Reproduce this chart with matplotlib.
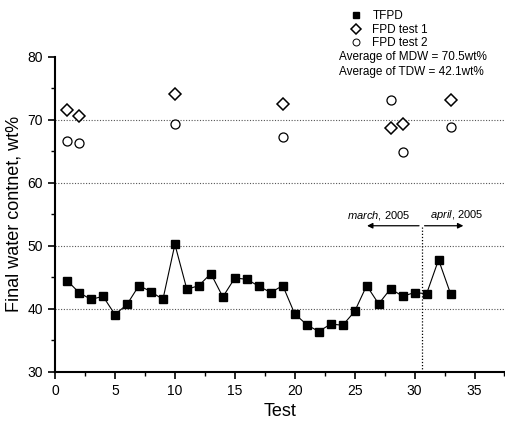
import matplotlib.pyplot as plt
from matplotlib.lines import Line2D
from matplotlib.ticker import MultipleLocator

plt.rcParams['font.family'] = ['Liberation Sans', 'DejaVu Sans']
plt.rcParams['mathtext.fontset'] = 'custom'
plt.rcParams['mathtext.rm'] = 'Liberation Sans'
plt.rcParams['mathtext.it'] = 'Liberation Sans:italic'

# TFPD final water content per test
tfpd_test = list(range(1, 34))
tfpd_wc = [44.5, 42.6, 41.5, 42.0, 39.1, 40.7, 43.7, 42.75, 41.5, 50.25,
           43.1, 43.7, 45.6, 41.9, 44.9, 44.7, 43.6, 42.6, 43.7, 39.2,
           37.5, 36.4, 37.6, 37.4, 39.6, 43.7, 40.8, 43.2, 42.0, 42.6,
           42.4, 47.8, 42.4]

# FPD runs
fpd_test = [1, 2, 10, 19, 28, 29, 33]
fpd1_wc = [71.6, 70.7, 74.1, 72.6, 68.7, 69.4, 73.2]
fpd2_wc = [66.6, 66.3, 69.4, 67.35, 73.1, 64.9, 68.9]

grid_levels = [40, 50, 60, 70]
month_split = 30.6

fig = plt.figure(figsize=(5.05, 4.25), dpi=100)
ax = fig.add_axes([0.109, 0.125, 0.89, 0.741])

for g in grid_levels:
    ax.axhline(g, color='#555555', lw=0.8, ls=(0, (1, 1.5)), zorder=0)

ax.plot(tfpd_test, tfpd_wc, color='black', lw=0.8, marker='s', ms=6,
        mfc='black', mec='black', zorder=3)
ax.plot(fpd_test, fpd1_wc, ls='none', marker='D', ms=6, mfc='white',
        mec='black', mew=1.1, zorder=3)
ax.plot(fpd_test, fpd2_wc, ls='none', marker='o', ms=6.5, mfc='white',
        mec='black', mew=0.9, zorder=3)

# month boundary
ax.plot([month_split, month_split], [30, 53.2], color='black', lw=0.9,
        ls=(0, (1, 1.5)))
ax.annotate('', xy=(25.8, 53.2), xytext=(month_split, 53.2),
            arrowprops=dict(arrowstyle='-|>', color='black', lw=0.9,
                            mutation_scale=8))
ax.annotate('', xy=(34.3, 53.2), xytext=(month_split, 53.2),
            arrowprops=dict(arrowstyle='-|>', color='black', lw=0.9,
                            mutation_scale=8))
ax.text(27.0, 54.9, r'$\it{march}$, 2005', ha='center', va='center', fontsize=8)
ax.text(31.3, 54.9, r'$\it{april}$, 2005', ha='left', va='center', fontsize=8)

ax.set_xlim(0, 37.5)
ax.set_ylim(30, 80)
ax.xaxis.set_major_locator(MultipleLocator(5))
ax.xaxis.set_minor_locator(MultipleLocator(2.5))
ax.yaxis.set_major_locator(MultipleLocator(10))
ax.yaxis.set_minor_locator(MultipleLocator(5))
ax.tick_params(which='major', direction='out', length=5, width=1.2, labelsize=10)
ax.tick_params(which='minor', direction='out', length=3, width=1)

for side in ['top', 'right']:
    ax.spines[side].set_visible(False)
for side in ['left', 'bottom']:
    ax.spines[side].set_linewidth(1.5)

ax.set_xlabel('Test', fontsize=13, labelpad=4)
ax.set_ylabel('Final water contnet, wt%', fontsize=13, labelpad=4)

handles = [
    Line2D([], [], ls='none', marker='s', ms=4.5, mfc='black', mec='black'),
    Line2D([], [], ls='none', marker='D', ms=5, mfc='white', mec='black', mew=1.1),
    Line2D([], [], ls='none', marker='o', ms=5, mfc='white', mec='black', mew=0.7),
]
fig.legend(handles, ['TFPD', 'FPD test 1', 'FPD test 2'], loc='upper left',
           bbox_to_anchor=(0.672, 0.995), frameon=False, fontsize=8.5,
           handletextpad=0.6, labelspacing=0.12, handlelength=1.5,
           borderaxespad=0.3)
fig.text(0.671, 0.866, 'Average of MDW = 70.5wt%', fontsize=8.5, va='center')
fig.text(0.671, 0.831, 'Average of TDW = 42.1wt%', fontsize=8.5, va='center')

fig.savefig('out.png', dpi=100)
